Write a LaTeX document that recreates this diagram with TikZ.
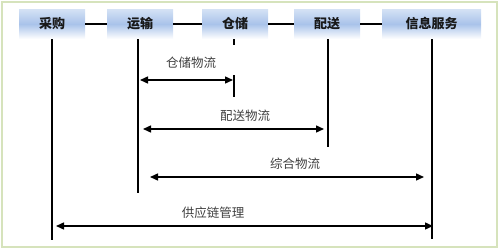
\documentclass[tikz,border=0pt]{standalone}
\usepackage{fontspec}
\newfontfamily\cjk{Noto Sans CJK SC}
\usetikzlibrary{arrows.meta}
\definecolor{frame}{HTML}{D6E3BC}
\definecolor{boxmid}{HTML}{A9C3EA}
\definecolor{boxtop}{HTML}{D5E2F5}
\tikzset{
  stage/.style={minimum height=30pt, inner sep=0pt, top color=boxtop, bottom color=white, middle color=boxmid, shading angle=0,
    font=\cjk\fontsize{13}{15}\selectfont\bfseries, text=black!90},
  lbl/.style={font=\cjk\fontsize{12.5}{15}\selectfont, text=black!75, inner sep=1pt},
  link/.style={line width=1.3pt, black},
  flow/.style={line width=1.4pt, black, {Triangle[length=8pt,width=7pt]}-{Triangle[length=8pt,width=7pt]}}
}
\begin{document}
\begin{tikzpicture}[x=1pt,y=-1pt]
\useasboundingbox (0,0) rectangle (499,249);
\draw[frame, line width=2pt] (2,2) rectangle (497,247);
% boxes
\node[stage, minimum width=66pt] (cg) at (52,24) {采购};
\node[stage, minimum width=66pt] (ys) at (140,24) {运输};
\node[stage, minimum width=66pt] (cc) at (235,24) {仓储};
\node[stage, minimum width=66pt] (ps) at (327,24) {配送};
\node[stage, minimum width=99pt] (xx) at (431.5,24) {信息服务};
% horizontal links
\draw[link] (cg.east) -- (ys.west);
\draw[link] (ys.east) -- (cc.west);
\draw[link] (cc.east) -- (ps.west);
\draw[link] (ps.east) -- (xx.west);
% vertical lines
\coordinate (cgB) at (52,240);
\coordinate (ysB) at (138,193);
\coordinate (ccA) at (234,45);
\coordinate (ccT) at (234,75);
\coordinate (ccB) at (234,97);
\coordinate (psB) at (328,147);
\coordinate (xxB) at (432,239);
\draw[link] (cg.south) -- (cgB);
\draw[link] (ys.south -| ysB) -- (ysB);
\draw[link] (cc.south -| ccA) -- (ccA);
\draw[link] (ccT) -- (ccB);
\draw[link] (ps.south -| psB) -- (psB);
\draw[link] (xx.south -| xxB) -- (xxB);
% flows
\coordinate (f1a) at (140,80); \coordinate (f1b) at (233,80);
\coordinate (f2a) at (143,129); \coordinate (f2b) at (324,129);
\coordinate (f3a) at (150,177); \coordinate (f3b) at (424,177);
\coordinate (f4a) at (56,226); \coordinate (f4b) at (433,226);
\draw[flow] (f1a) -- (f1b);
\draw[flow] (f2a) -- (f2b);
\draw[flow] (f3a) -- (f3b);
\draw[flow] (f4a) -- (f4b);
\node[lbl] (l1) at (191,63) {仓储物流};
\node[lbl] (l2) at (245,116) {配送物流};
\node[lbl] (l3) at (295,164) {综合物流};
\node[lbl] (l4) at (213,213) {供应链管理};
\end{tikzpicture}
\end{document}
